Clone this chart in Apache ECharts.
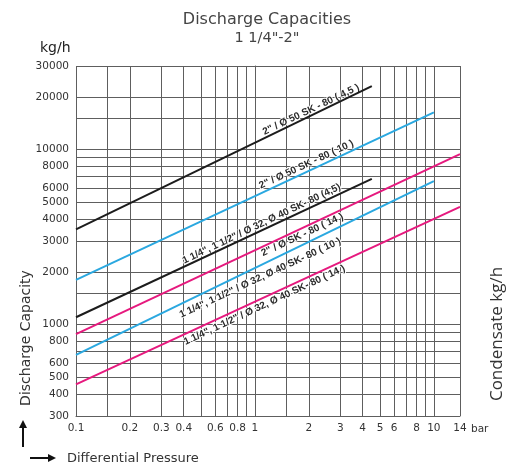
<!DOCTYPE html>
<html><head><meta charset="utf-8">
<script src="https://cdn.jsdelivr.net/npm/echarts@6/dist/echarts.min.js"></script>
<style>html,body{margin:0;padding:0;background:#fff}#c{width:514px;height:466px}</style>
</head><body><div id="c"></div>
<script>
// ---- axis grids & tick labels ----
const xMin = 0.1, xMax = 14;
const yMin = 300, yMax = 30000;
const xGridValues = [0.1,0.15,0.2,0.3,0.4,0.5,0.6,0.7,0.8,0.9,1,1.5,2,3,4,5,6,7,8,9,10,14];
const xTickValues = [0.1,0.2,0.3,0.4,0.6,0.8,1,2,3,4,5,6,8,10,14];
const xTickLabels = ['0.1','0.2','0.3','0.4','0.6','0.8','1','2','3','4','5','6','8','10','14'];
const yGridValues = [300,400,500,600,700,800,900,1000,1500,2000,3000,4000,5000,6000,7000,8000,9000,10000,15000,20000,30000];
const yTickValues = [300,400,500,600,800,1000,2000,3000,4000,5000,6000,8000,10000,20000,30000];
const yTickLabels = ['300','400','500','600','800','1000','2000','3000','4000','5000','6000','8000','10000','20000','30000'];

// ---- series values (pressure bar, capacity kg/h) ----
const p_2in_45 = [0.1, 4.5];   const c_2in_45 = [3500, 23000];
const p_2in_10 = [0.1, 10];    const c_2in_10 = [1800, 16300];
const p_small_45 = [0.1, 4.5]; const c_small_45 = [1100, 6800];
const p_2in_14 = [0.1, 14];    const c_2in_14 = [880, 9400];
const p_small_10 = [0.1, 10];  const c_small_10 = [670, 6600];
const p_small_14 = [0.1, 14];  const c_small_14 = [455, 4700];

const seriesNames = [
  '2" / Ø 50 SK - 80 ( 4,5 )',
  '2" / Ø 50 SK - 80 ( 10 )',
  '1 1/4", 1 1/2" / Ø 32, Ø 40 SK- 80 (4,5)',
  '2" / Ø SK - 80 ( 14 )',
  '1 1/4", 1 1/2" / Ø 32, Ø 40 SK- 80 ( 10 )',
  '1 1/4", 1 1/2" / Ø 32, Ø 40 SK- 80 ( 14 )'
];

const L = Math.log10;
const gridColor = '#5e5e5e';
const BLACK = '#1c1c1c', BLUE = '#2aa8e0', PINK = '#e6197e';

function fmt(values, labels){
  return function(v){
    for (let i=0;i<values.length;i++){ if (Math.abs(L(values[i]) - v) < 1e-6) return labels[i]; }
    return '';
  };
}

const defs = [
  {name: seriesNames[0], p: p_2in_45, c: c_2in_45, color: BLACK, lab: [2.06, 16900], rot: 25.5},
  {name: seriesNames[1], p: p_2in_10, c: c_2in_10, color: BLUE, lab: [1.94, 8200], rot: 25},
  {name: seriesNames[2], p: p_small_45, c: c_small_45, color: BLACK, lab: [1.09, 3760], rot: 25.5},
  {name: seriesNames[3], p: p_2in_14, c: c_2in_14, color: PINK, lab: [1.84, 3250], rot: 25},
  {name: seriesNames[4], p: p_small_10, c: c_small_10, color: BLUE, lab: [1.07, 1845], rot: 25},
  {name: seriesNames[5], p: p_small_14, c: c_small_14, color: PINK, lab: [1.13, 1290], rot: 25}
];

const series = defs.map(d => ({
  type: 'line', name: d.name,
  data: d.p.map((p, i) => [L(p), L(d.c[i])]),
  showSymbol: false, symbol: 'none', silent: true,
  lineStyle: {color: d.color, width: 2},
  itemStyle: {color: d.color},
  z: 5,
  markPoint: {
    silent: true, symbol: 'circle', symbolSize: 0,
    data: [{coord: [L(d.lab[0]), L(d.lab[1])]}],
    label: {
      show: true, position: 'inside', formatter: d.name, rotate: d.rot,
      fontFamily: 'Liberation Sans', fontWeight: 'bold', fontSize: 10, color: '#2a2a2a',
      textBorderColor: '#fff', textBorderWidth: 2
    }
  }
}));

const chart = echarts.init(document.getElementById('c'), null, {renderer: 'canvas'});
chart.setOption({
  animation: false,
  backgroundColor: '#fff',
  grid: {left: 76, right: 54, top: 66, bottom: 50},
  xAxis: {
    type: 'value', min: L(xMin), max: L(xMax),
    axisLine: {show: true, lineStyle: {color: gridColor, width: 1}},
    axisTick: {show: false, customValues: xGridValues.map(L)},
    axisLabel: {customValues: xTickValues.map(L), formatter: fmt(xTickValues, xTickLabels),
      color: '#333', fontSize: 10.5, fontFamily: 'DejaVu Sans', margin: 7},
    splitLine: {show: true, lineStyle: {color: gridColor, width: 1}}
  },
  yAxis: [{
    type: 'value', min: L(yMin), max: L(yMax), position: 'left',
    axisLine: {show: true, lineStyle: {color: gridColor, width: 1}},
    axisTick: {show: true, length: 6, customValues: yTickValues.map(L), lineStyle: {color: gridColor, width: 1}},
    axisLabel: {customValues: yTickValues.map(L), formatter: fmt(yTickValues, yTickLabels),
      color: '#333', fontSize: 10.5, fontFamily: 'DejaVu Sans', margin: 7},
    splitLine: {show: false}
  }, {
    type: 'value', min: L(yMin), max: L(yMax), position: 'left',
    axisLine: {show: false},
    axisTick: {show: false, customValues: yGridValues.map(L)},
    axisLabel: {show: false},
    splitLine: {show: true, lineStyle: {color: gridColor, width: 1}}
  }],
  series: series,
  graphic: [
    {type: 'text', x: 267, y: 20, style: {text: 'Discharge Capacities', font: '16px "DejaVu Sans"', fill: '#444', textAlign: 'center', textVerticalAlign: 'middle'}},
    {type: 'text', x: 267, y: 38.5, style: {text: '1 1/4"-2"', font: '14.5px "DejaVu Sans"', fill: '#444', textAlign: 'center', textVerticalAlign: 'middle'}},
    {type: 'text', x: 40, y: 48.5, style: {text: 'kg/h', font: '14px "DejaVu Sans"', fill: '#222', textAlign: 'left', textVerticalAlign: 'middle'}},
    {type: 'text', x: 471, y: 429, style: {text: 'bar', font: '10.5px "DejaVu Sans"', fill: '#333', textAlign: 'left', textVerticalAlign: 'middle'}},
    {type: 'text', x: 26, y: 338, rotation: Math.PI/2, style: {text: 'Discharge Capacity', font: '14px "DejaVu Sans"', fill: '#333', textAlign: 'center', textVerticalAlign: 'middle'}},
    {type: 'text', x: 497, y: 334, rotation: Math.PI/2, style: {text: 'Condensate kg/h', font: '17px "Open Sans"', fill: '#333', textAlign: 'center', textVerticalAlign: 'middle'}},
    {type: 'text', x: 67, y: 459, style: {text: 'Differential Pressure', font: '13px "DejaVu Sans"', fill: '#333', textAlign: 'left', textVerticalAlign: 'middle'}},
    {type: 'line', shape: {x1: 23, y1: 447, x2: 23, y2: 427}, style: {stroke: '#111', lineWidth: 2}},
    {type: 'polygon', shape: {points: [[19, 428], [27, 428], [23, 420]]}, style: {fill: '#111'}},
    {type: 'line', shape: {x1: 30, y1: 458, x2: 49, y2: 458}, style: {stroke: '#111', lineWidth: 2}},
    {type: 'polygon', shape: {points: [[48, 454], [48, 462], [56, 458]]}, style: {fill: '#111'}}
  ]
});
</script></body></html>
